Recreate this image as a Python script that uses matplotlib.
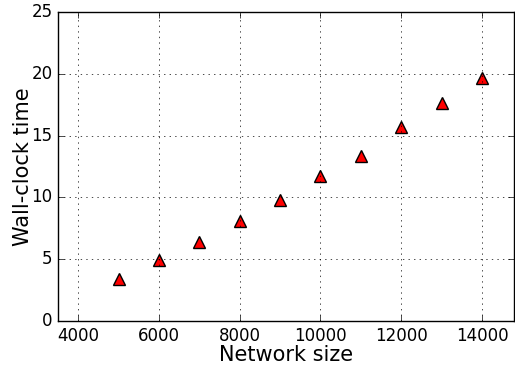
import numpy as np
import matplotlib
matplotlib.use("Agg")
import matplotlib.pyplot as plt

plt.style.use("classic")

# network sizes and measured wall-clock times
sizes = [5000, 6000, 7000, 8000, 9000, 10000, 11000, 12000, 13000, 14000]
times = [3.4, 4.9, 6.4, 8.1, 9.8, 11.7, 13.35, 15.7, 17.6, 19.7]

fig = plt.figure(figsize=(5.15, 3.69), dpi=100, facecolor="white")
ax = fig.add_axes([0.1126, 0.130, 0.886, 0.8375])
ax.plot(sizes, times, "r^", markersize=9, markeredgecolor="k", markeredgewidth=1)

ax.set_xlim(3500, 14800)
ax.set_ylim(0, 25)
ax.set_xticks([4000, 6000, 8000, 10000, 12000, 14000])
ax.set_yticks([0, 5, 10, 15, 20, 25])
ax.tick_params(labelsize=12)
ax.grid(True)
ax.set_xlabel("Network size", fontsize=15, labelpad=0)
ax.set_ylabel("Wall-clock time", fontsize=15, labelpad=-1)

fig.savefig("out.png", dpi=100, facecolor="white")
